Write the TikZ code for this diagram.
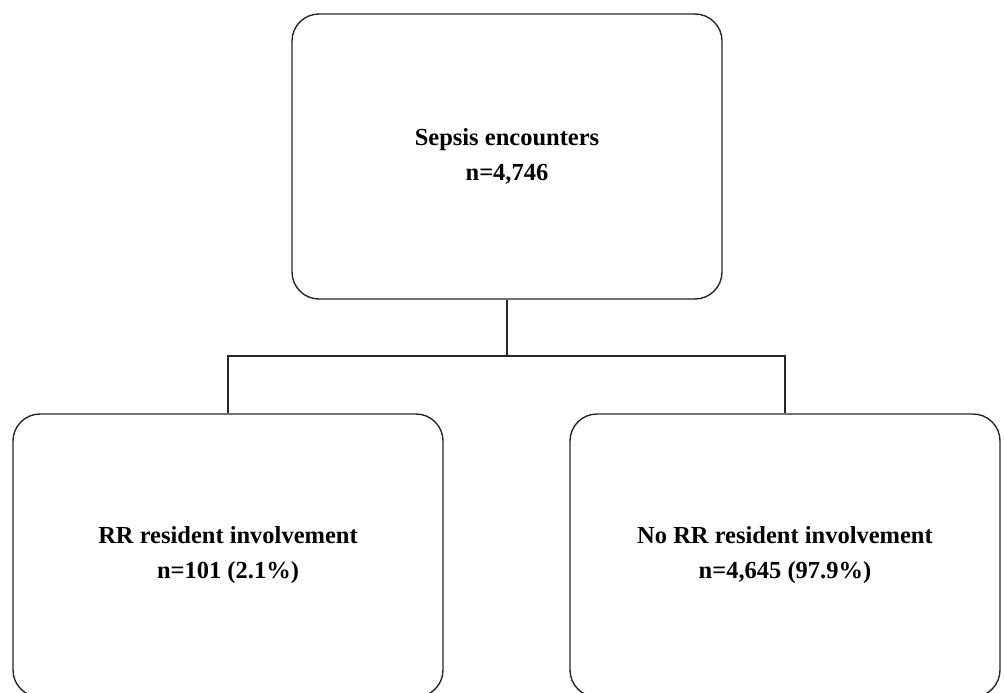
\documentclass[tikz,border=0pt]{standalone}
\usepackage{fontspec}
\setmainfont{Liberation Serif}
\begin{document}
\begin{tikzpicture}[x=1pt,y=-1pt,
  box/.style={draw=black!85, line width=1.4pt, rounded corners=27pt, minimum width=430pt, inner sep=0pt, align=center, font=\fontsize{24.5}{35}\selectfont\bfseries},
  conn/.style={draw=black!85, line width=1.4pt}]
\useasboundingbox (0,0) rectangle (1004,693);
\node[box, minimum height=285pt] (top) at (507,156.5) {Sepsis encounters\\n=4,746};
\node[box, minimum height=283pt] (left) at (228,555.5) {RR resident involvement\\n=101 (2.1\%)};
\node[box, minimum height=283pt] (right) at (785,555.5) {No RR resident involvement\\n=4,645 (97.9\%)};
\coordinate (mid) at (507,356);
\draw[conn] (top.south) -- (mid);
\draw[conn] (left.north) |- (mid) -| (right.north);
\end{tikzpicture}
\end{document}
